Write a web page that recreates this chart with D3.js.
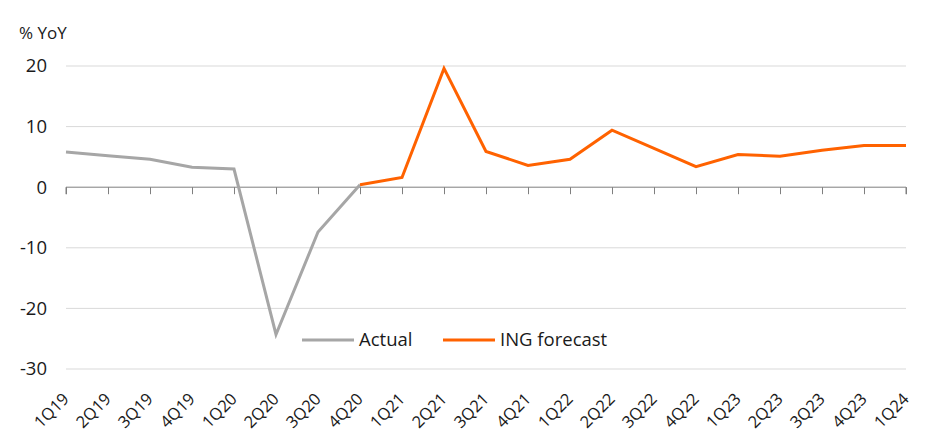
<!DOCTYPE html>
<html>
<head>
<meta charset="utf-8">
<script src="https://cdn.jsdelivr.net/npm/d3@7"></script>
<style>
  body { margin: 0; background: #fff; }
  text { font-family: "Open Sans", "Lato", sans-serif; fill: #1a1a1a; }
</style>
</head>
<body>
<script>
// quarters along the x axis
const quarters = ["1Q19", "2Q19", "3Q19", "4Q19", "1Q20", "2Q20", "3Q20", "4Q20",
  "1Q21", "2Q21", "3Q21", "4Q21", "1Q22", "2Q22", "3Q22", "4Q22",
  "1Q23", "2Q23", "3Q23", "4Q23", "1Q24"];

// actual yoy growth, 1Q19 - 4Q20
const actual = [5.8, 5.2, 4.6, 3.3, 3.0, -24.3, -7.4, 0.4];
// ING forecast, 4Q20 - 1Q24
const forecast = [0.4, 1.6, 19.6, 5.9, 3.6, 4.6, 9.4, 6.4, 3.4, 5.4, 5.1, 6.1, 6.9, 6.9];

const yTicks = [20, 10, 0, -10, -20, -30];

const width = 952, height = 438;
const margin = { top: 66, right: 46, bottom: 69, left: 66 };

const x = d3.scalePoint().domain(quarters).range([margin.left, width - margin.right]);
const y = d3.scaleLinear().domain([-30, 20]).range([height - margin.bottom, margin.top]);

const svg = d3.select("body").append("svg")
  .attr("width", width)
  .attr("height", height);

// gridlines
svg.append("g")
  .selectAll("line")
  .data(yTicks.filter(d => d !== 0))
  .join("line")
    .attr("x1", margin.left)
    .attr("x2", width - margin.right)
    .attr("y1", d => y(d))
    .attr("y2", d => y(d))
    .attr("stroke", "#d9d9d9")
    .attr("stroke-width", 1);

// y labels
svg.append("g")
  .selectAll("text")
  .data(yTicks)
  .join("text")
    .attr("x", 47)
    .attr("y", d => y(d))
    .attr("dy", "0.35em")
    .attr("text-anchor", "end")
    .attr("font-size", 18.5)
    .text(d => d);

svg.append("text")
  .attr("x", 19)
  .attr("y", 39)
  .attr("font-size", 17)
  .text("% YoY");

// zero axis with ticks
const xAxis = svg.append("g")
  .attr("transform", `translate(0, ${y(0)})`)
  .call(d3.axisBottom(x).tickSize(7).tickFormat(""));
xAxis.select(".domain").attr("stroke", "#7f7f7f").attr("d", `M${margin.left},7V0H${width - margin.right}V7`);
xAxis.selectAll(".tick line").attr("stroke", "#7f7f7f");

// rotated quarter labels
svg.append("g")
  .selectAll("text")
  .data(quarters)
  .join("text")
    .attr("transform", d => `translate(${x(d) + 4}, ${height - margin.bottom + 31}) rotate(-45)`)
    .attr("text-anchor", "end")
    .attr("font-size", 16.5)
    .text(d => d);

const line = d3.line()
  .x(d => x(d.q))
  .y(d => y(d.v));

const actualPts = actual.map((v, i) => ({ q: quarters[i], v }));
const forecastPts = forecast.map((v, i) => ({ q: quarters[i + 7], v }));

svg.append("path")
  .datum(actualPts)
  .attr("fill", "none")
  .attr("stroke", "#a6a6a6")
  .attr("stroke-width", 3)
  .attr("d", line);

svg.append("path")
  .datum(forecastPts)
  .attr("fill", "none")
  .attr("stroke", "#ff6200")
  .attr("stroke-width", 3)
  .attr("d", line);

// legend
const legend = [
  { name: "Actual", color: "#a6a6a6", x: 302 },
  { name: "ING forecast", color: "#ff6200", x: 443 }
];
const lg = svg.append("g").selectAll("g").data(legend).join("g")
  .attr("transform", d => `translate(${d.x}, 340)`);
lg.append("line")
  .attr("x1", 0).attr("x2", 52)
  .attr("stroke", d => d.color)
  .attr("stroke-width", 3);
lg.append("text")
  .attr("x", 57)
  .attr("dy", "0.35em")
  .attr("font-size", 18.5)
  .text(d => d.name);
</script>
</body>
</html>
